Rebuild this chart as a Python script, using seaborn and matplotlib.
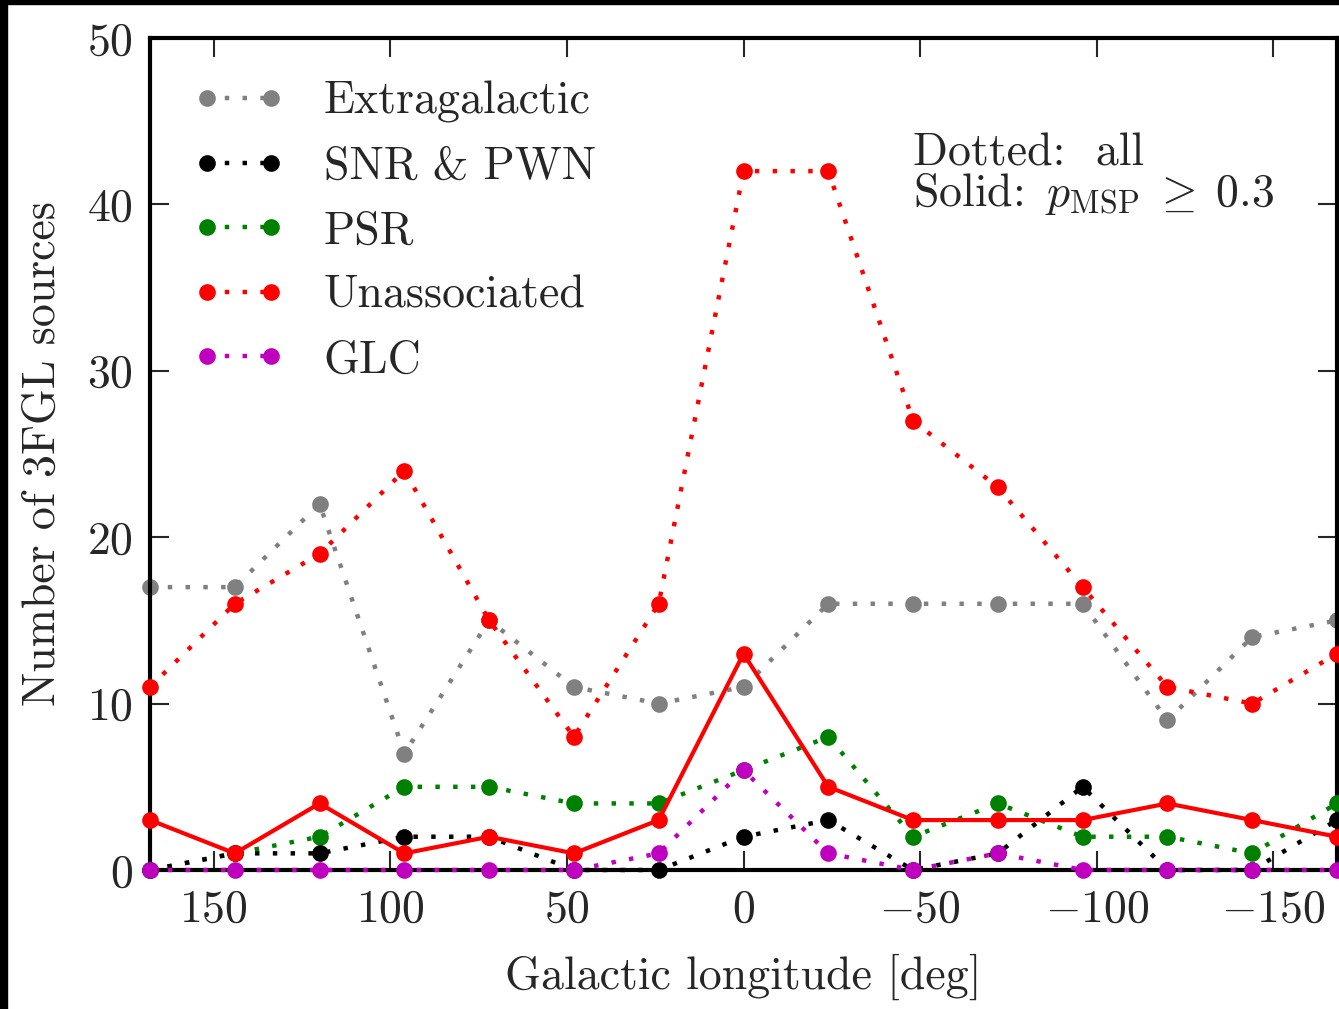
import matplotlib
matplotlib.use("Agg")
import matplotlib.pyplot as plt
import seaborn as sns
import pandas as pd
from matplotlib.patches import Rectangle

# ---- data ----
longitude = [168, 144, 120, 96, 72, 48, 24, 0, -24, -48, -72, -96, -120, -144, -168]
extragalactic = [17, 17, 22, 7, 15, 11, 10, 11, 16, 16, 16, 16, 9, 14, 15]
snr_pwn = [0, 1, 1, 2, 2, 0, 0, 2, 3, 0, 1, 5, 0, 0, 3]
psr = [0, 1, 2, 5, 5, 4, 4, 6, 8, 2, 4, 2, 2, 1, 4]
unassociated = [11, 16, 19, 24, 15, 8, 16, 42, 42, 27, 23, 17, 11, 10, 13]
glc = [0, 0, 0, 0, 0, 0, 1, 6, 1, 0, 1, 0, 0, 0, 0]
unassoc_msp = [3, 1, 4, 1, 2, 1, 3, 13, 5, 3, 3, 3, 4, 3, 2]

labels = ["Extragalactic", "SNR & PWN", "PSR", "Unassociated", "GLC"]
xticks = [150, 100, 50, 0, -50, -100, -150]
yticks = [0, 10, 20, 30, 40, 50]

sns.set_style("ticks")
plt.rcParams.update({
    "font.family": "serif",
    "font.serif": ["cmr10"],
    "mathtext.fontset": "cm",
    "axes.formatter.use_mathtext": True,
    "axes.unicode_minus": True,
    "font.size": 33,
})

W, H = 1339, 1009
fig = plt.figure(figsize=(W / 100, H / 100), dpi=100)
fig.patch.set_facecolor("white")
ax = fig.add_axes([150 / W, (H - 870) / H, (1337 - 150) / W, (870 - 38) / H])

series = [
    (extragalactic, "#808080", 2),
    (snr_pwn, "black", 4),
    (psr, "green", 3),
    (unassociated, "red", 5),
    (glc, "#bf00bf", 6),
]
dotted = (0, (1, 3))
for (vals, col, z), lab in zip(series, labels):
    df = pd.DataFrame({"l": longitude, "n": vals})
    sns.lineplot(data=df, x="l", y="n", ax=ax, color=col, linestyle=dotted,
                 linewidth=3.2, marker="o", markersize=12, markeredgecolor=col,
                 markeredgewidth=0, label=lab, zorder=z, sort=False,
                 clip_on=False)

df_s = pd.DataFrame({"l": longitude, "n": unassoc_msp})
sns.lineplot(data=df_s, x="l", y="n", ax=ax, color="red", linestyle="-",
             linewidth=3, marker="o", markersize=12, markeredgecolor="red",
             markeredgewidth=0, zorder=7, sort=False, legend=False,
             clip_on=False)

ax.set_xlim(168, -168)
ax.set_ylim(0, 50)
ax.set_xticks(xticks)
ax.set_yticks(yticks)
ax.tick_params(which="major", direction="in", length=14, width=1.5,
               top=True, right=True, labelsize=33)
ax.tick_params(axis="x", pad=14)
ax.tick_params(axis="y", pad=12)
for sp in ax.spines.values():
    sp.set_linewidth(3)
    sp.set_color("black")

ax.set_xlabel("Galactic longitude [deg]", fontsize=33, labelpad=16)
ax.set_ylabel("Number of 3FGL sources", fontsize=33, labelpad=17)

leg = ax.legend(loc="upper left", bbox_to_anchor=(193 / W, 1 - 81 / H),
                bbox_transform=fig.transFigure, frameon=False, numpoints=2,
                handlelength=2.0, handletextpad=0.85, labelspacing=0.5,
                borderpad=0, borderaxespad=0, fontsize=33)

ax.text(0.643, 0.847, "Dotted:  all", transform=ax.transAxes,
        fontsize=33, va="baseline", ha="left")
ax.text(0.643, 0.798, r"Solid: $\,p_{\rm MSP}\;\geq\;0.3$", transform=ax.transAxes,
        fontsize=33, va="baseline", ha="left")

# black border strips visible at left and top of the reference image
fig.add_artist(Rectangle((0, 0), 7 / W, 1, transform=fig.transFigure,
                         color="black", zorder=10))
fig.add_artist(Rectangle((0, 1 - 4 / H), 1, 4 / H, transform=fig.transFigure,
                         color="black", zorder=10))

fig.savefig("out.png", dpi=100)
